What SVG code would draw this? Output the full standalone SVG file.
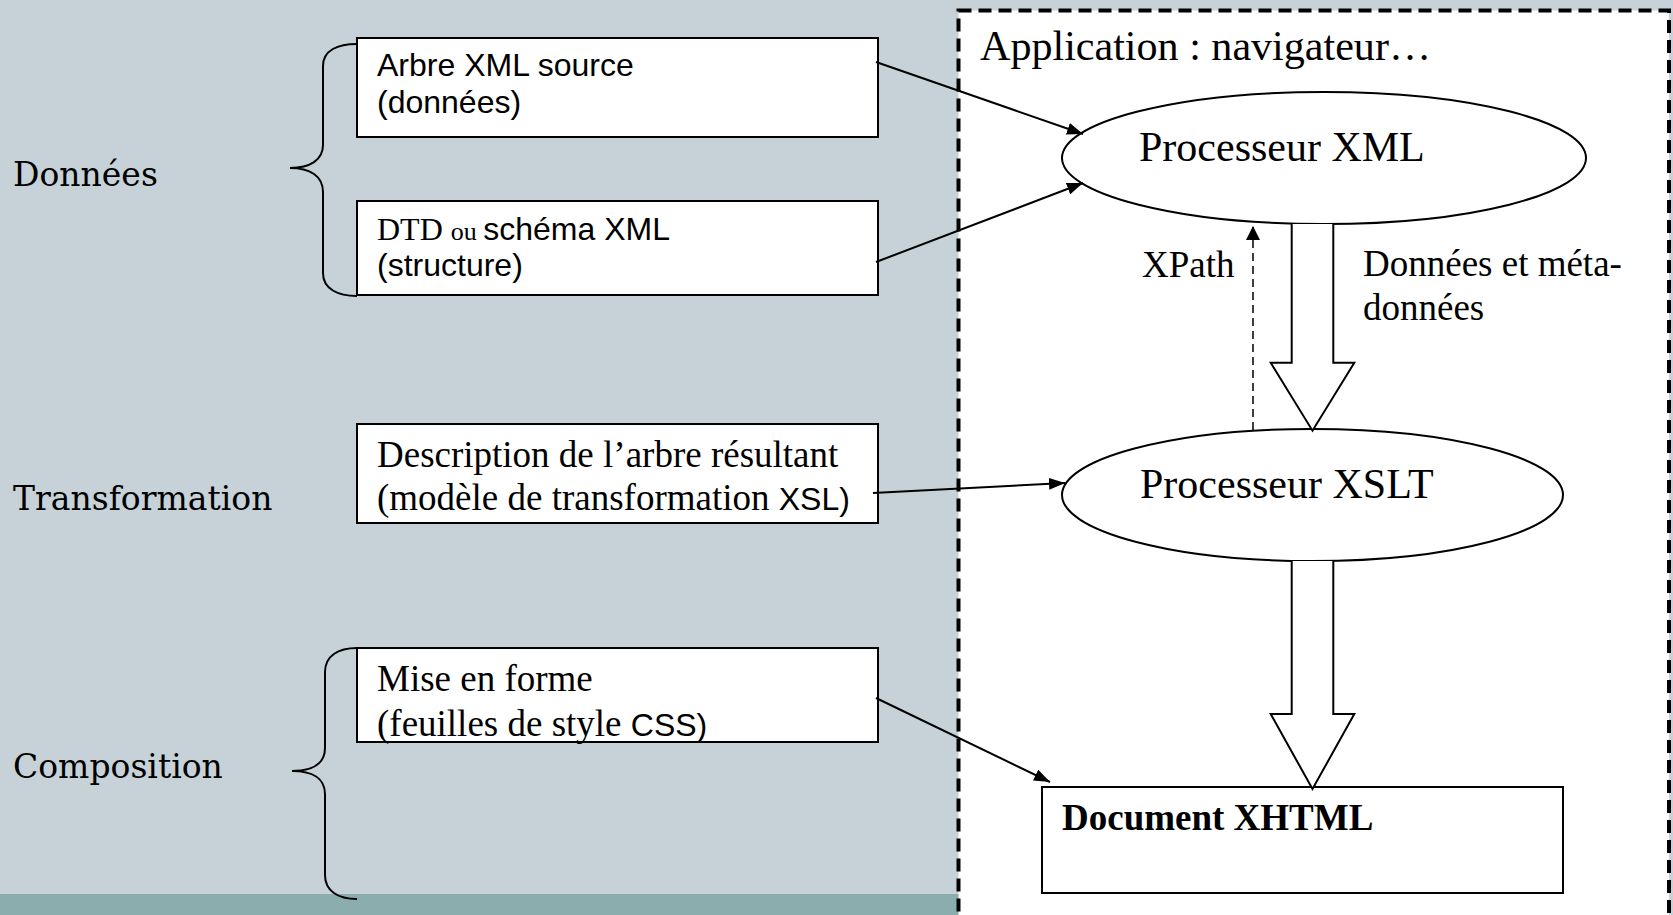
<svg xmlns="http://www.w3.org/2000/svg" width="1673" height="915" viewBox="0 0 1673 915">
<style>
.box{fill:#fff;stroke:#000;stroke-width:2}
.ell{fill:#fff;stroke:#000;stroke-width:2}
.con{fill:none;stroke:#000;stroke-width:2}
.brace{fill:none;stroke:#000;stroke-width:2}
.fat{fill:#fff;stroke:#000;stroke-width:2;stroke-linejoin:miter}
.tm{font-family:"Liberation Serif","Times New Roman",serif;fill:#000}
.ar{font-family:"Liberation Sans",Arial,sans-serif;fill:#000}
.lbl{font-family:"DejaVu Serif",Georgia,serif;font-size:33px;fill:#000}
</style>
<defs>
<marker id="ah" viewBox="0 0 16 12" refX="16" refY="6" markerWidth="16" markerHeight="12" markerUnits="userSpaceOnUse" orient="auto">
<path d="M0,0 L16,6 L0,12 Z" fill="#000"/>
</marker>
<marker id="ahs" viewBox="0 0 14 14" refX="14" refY="7" markerWidth="14" markerHeight="14" markerUnits="userSpaceOnUse" orient="auto">
<path d="M0,0 L14,7 L0,14 Z" fill="#000"/>
</marker>
</defs>
<rect x="0" y="0" width="1673" height="915" fill="#C6D2D8"/>
<rect x="0" y="894" width="959" height="21" fill="#8BADAE"/>
<rect id="app-area" x="958.5" y="10.5" width="710.5" height="1000" fill="#fff" stroke="#000" stroke-width="4" stroke-dasharray="13 7"/>

<g id="label-donnees"><text class="lbl" x="13" y="186">Données</text></g>
<g id="label-transformation"><text class="lbl" x="13" y="510">Transformation</text></g>
<g id="label-composition"><text class="lbl" x="13" y="778">Composition</text></g>

<g id="braces">
<path class="brace" d="M357,44 C338,44 323,50 323,66 L323,145 C323,160 310,168 290,168 C310,168 323,176 323,192 L323,273 C323,289 338,296 357,296"/>
<path class="brace" d="M357,648 C338,648 325,656 325,672 L325,748 C325,764 312,771 292,771 C312,771 325,778 325,794 L325,875 C325,891 338,899 357,899"/>
</g>

<g id="box-arbre">
<rect class="box" x="357" y="38" width="521" height="99"/>
<text class="ar" font-size="32" x="377" y="76">Arbre XML source</text>
<text class="ar" font-size="32" x="377" y="113">(données)</text>
</g>
<g id="box-dtd">
<rect class="box" x="357" y="201" width="521" height="94"/>
<text x="377" y="240"><tspan class="tm" font-size="32">DTD </tspan><tspan class="tm" font-size="26">ou </tspan><tspan class="ar" font-size="32">schéma XML</tspan></text>
<text class="ar" font-size="32" x="377" y="276">(structure)</text>
</g>
<g id="box-description">
<rect class="box" x="357" y="424" width="521" height="99"/>
<text class="tm" font-size="37" x="377" y="467">Description de l’arbre résultant</text>
<text x="377" y="510"><tspan class="tm" font-size="37">(modèle de transformation </tspan><tspan class="ar" font-size="32">XSL)</tspan></text>
</g>
<g id="box-mise-en-forme">
<rect class="box" x="357" y="648" width="521" height="94"/>
<text class="tm" font-size="37" x="377" y="691">Mise en forme</text>
<text x="377" y="736"><tspan class="tm" font-size="37">(feuilles de style </tspan><tspan class="ar" font-size="32">CSS)</tspan></text>
</g>

<g id="app-title"><text class="tm" font-size="42" x="980" y="60" textLength="451" lengthAdjust="spacingAndGlyphs">Application : navigateur…</text></g>

<g id="processeur-xml">
<ellipse class="ell" cx="1324" cy="158" rx="262" ry="66"/>
<text class="tm" font-size="42" x="1139" y="161">Processeur XML</text>
</g>
<g id="processeur-xslt">
<ellipse class="ell" cx="1312.5" cy="495" rx="250.5" ry="66"/>
<text class="tm" font-size="42" x="1140" y="498">Processeur XSLT</text>
</g>
<g id="document-xhtml">
<rect class="box" x="1042" y="787" width="521" height="106"/>
<text class="tm" font-size="37" font-weight="bold" x="1062" y="830">Document XHTML</text>
</g>

<g id="connectors">
<path class="con" d="M876,62 L1083,134" marker-end="url(#ah)"/>
<path class="con" d="M876,262 L1083,183" marker-end="url(#ah)"/>
<path class="con" d="M873,493 L1065,483" marker-end="url(#ah)"/>
<path class="con" d="M876,698 L1050,782" marker-end="url(#ah)"/>
<path fill="none" stroke="#000" stroke-width="1.5" stroke-dasharray="8 5" d="M1253,430 L1253,226" marker-end="url(#ahs)"/>
<path class="fat" d="M1291.7,224 L1291.7,362.7 L1270.7,362.7 L1312.5,430.7 L1354.3,362.7 L1333.3,362.7 L1333.3,224"/>
<path class="fat" d="M1291.7,561 L1291.7,714 L1270.7,714 L1312.5,789 L1354.3,714 L1333.3,714 L1333.3,561"/>
</g>

<g id="labels">
<text class="tm" font-size="37" x="1142" y="277">XPath</text>
<text class="tm" font-size="37" x="1363" y="276">Données et méta-</text>
<text class="tm" font-size="37" x="1363" y="320">données</text>
</g>
</svg>
